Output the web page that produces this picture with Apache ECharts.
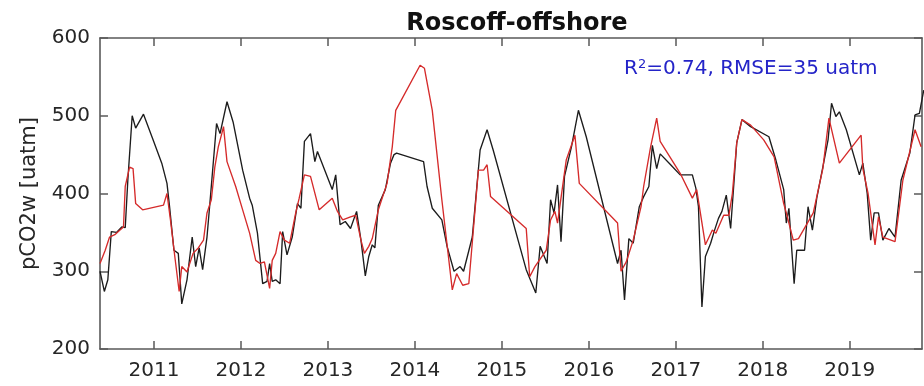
<!DOCTYPE html>
<html>
<head>
<meta charset="utf-8">
<script src="https://cdn.jsdelivr.net/npm/echarts@6/dist/echarts.min.js"></script>
<style>
  html, body { margin: 0; padding: 0; background: #fff; }
  #chart { width: 924px; height: 386px; }
</style>
</head>
<body>
<div id="chart"></div>
<script>
// Observed pCO2w (decimal year, uatm)
const obsTime = [2010.38,2010.43,2010.47,2010.51,2010.57,2010.63,2010.67,2010.70,2010.75,2010.79,2010.88,2010.99,
  2011.09,2011.15,2011.18,2011.23,2011.28,2011.32,2011.38,2011.44,2011.48,2011.52,2011.56,2011.61,2011.64,2011.72,2011.76,2011.84,2011.91,
  2012.02,2012.10,2012.13,2012.19,2012.25,2012.30,2012.33,2012.36,2012.40,2012.45,2012.48,2012.53,2012.59,2012.65,2012.69,2012.73,2012.80,2012.85,2012.88,
  2013.05,2013.09,2013.14,2013.20,2013.26,2013.33,2013.38,2013.43,2013.47,2013.51,2013.54,2013.58,2013.66,2013.72,2013.76,2013.79,
  2014.10,2014.14,2014.20,2014.31,2014.37,2014.45,2014.52,2014.56,2014.66,2014.75,2014.83,2014.90,
  2015.28,2015.39,2015.44,2015.52,2015.56,2015.60,2015.64,2015.68,2015.72,2015.80,2015.88,2015.97,
  2016.33,2016.37,2016.41,2016.46,2016.51,2016.58,2016.63,2016.69,2016.73,2016.78,2016.82,2016.94,
  2017.05,2017.19,2017.23,2017.26,2017.30,2017.34,2017.40,2017.44,2017.49,2017.53,2017.58,2017.63,2017.67,2017.70,2017.76,2017.86,
  2018.07,2018.15,2018.24,2018.27,2018.30,2018.36,2018.39,2018.48,2018.52,2018.57,2018.62,2018.69,2018.75,2018.79,2018.84,2018.88,2018.96,
  2019.11,2019.15,2019.20,2019.24,2019.28,2019.33,2019.38,2019.45,2019.52,2019.59,2019.69,2019.75,2019.80,2019.85];
const obsPco2 = [300,274,289,351,350,357,356,417,500,484,502,469,
  439,413,383,327,323,258,289,344,306,330,302,344,383,490,477,518,492,
  430,394,385,349,284,287,310,287,289,284,351,321,344,387,381,467,477,441,454,
  405,424,360,364,355,377,340,294,319,334,330,385,405,439,450,452,
  441,409,381,366,332,300,306,300,344,456,482,456,
  302,272,332,310,392,375,411,338,422,460,507,473,
  310,327,263,342,336,383,396,409,462,432,451,437,
  424,424,407,383,254,319,336,351,368,377,398,355,417,465,495,486,
  473,443,405,362,381,284,327,327,383,353,394,434,469,516,499,505,482,
  424,439,400,340,375,375,340,355,344,417,452,501,503,533];

// Modelled pCO2w (decimal year, uatm)
const modelTime = [2010.38,2010.44,2010.49,2010.55,2010.61,2010.65,2010.67,2010.72,2010.76,2010.79,2010.87,
  2011.11,2011.15,2011.19,2011.24,2011.29,2011.32,2011.38,2011.45,2011.51,2011.57,2011.61,2011.66,2011.70,2011.74,2011.78,2011.80,2011.84,2011.94,
  2012.02,2012.10,2012.17,2012.22,2012.27,2012.33,2012.36,2012.40,2012.45,2012.50,2012.56,2012.63,2012.67,2012.73,2012.80,2012.90,
  2013.05,2013.11,2013.17,2013.26,2013.32,2013.38,2013.42,2013.47,2013.51,2013.58,2013.68,2013.74,2013.78,
  2014.06,2014.11,2014.20,2014.31,2014.43,2014.48,2014.55,2014.62,2014.73,2014.79,2014.83,2014.87,
  2015.28,2015.32,2015.38,2015.51,2015.56,2015.61,2015.64,2015.74,2015.84,2015.89,
  2016.33,2016.37,2016.43,2016.51,2016.60,2016.63,2016.71,2016.78,2016.82,
  2017.05,2017.19,2017.24,2017.34,2017.42,2017.46,2017.55,2017.61,2017.65,2017.70,2017.76,2017.86,
  2018.01,2018.13,2018.24,2018.27,2018.35,2018.41,2018.58,2018.69,2018.76,2018.88,
  2019.13,2019.15,2019.21,2019.29,2019.33,2019.38,2019.52,2019.61,2019.75,2019.82];
const modelPco2 = [310,327,344,347,353,357,409,434,432,387,379,
  385,400,366,319,274,306,299,323,330,340,375,392,434,460,477,486,441,409,
  379,349,314,310,312,278,314,323,351,340,336,375,394,424,422,379,
  394,377,366,370,372,340,323,332,342,379,413,460,507,
  565,561,507,392,276,297,282,284,430,430,437,396,
  355,293,306,327,366,377,362,443,475,413,
  362,300,312,340,383,409,460,497,467,
  426,394,405,334,353,349,372,372,400,465,495,488,
  469,447,387,375,340,342,375,432,497,439,
  475,432,400,334,370,344,338,417,482,460];

// Axis ticks
const yearTicks = [2011,2012,2013,2014,2015,2016,2017,2018,2019];
const yTicks = [200,300,400,500,600];
const xRange = [2010.38, 2019.83];

const pairs = (xs, ys) => xs.map((x, i) => [x, ys[i]]);

const axisColor = '#5a5a5a';
const textColor = '#262626';
const font = 'DejaVu Sans';

const chart = echarts.init(document.getElementById('chart'), null, { renderer: 'canvas' });

const xBase = {
  type: 'value',
  min: xRange[0],
  max: xRange[1],
  splitLine: { show: false },
  axisLine: { show: true, onZero: false, lineStyle: { color: axisColor, width: 1.6 } },
  axisTick: { show: true, inside: true, length: 8, customValues: yearTicks, lineStyle: { color: axisColor, width: 1.5 } }
};
const yBase = {
  type: 'value',
  min: yTicks[0],
  max: yTicks[yTicks.length - 1],
  interval: 100,
  splitLine: { show: false },
  axisLine: { show: true, onZero: false, lineStyle: { color: axisColor, width: 1.6 } },
  axisTick: { show: true, inside: true, length: 8, lineStyle: { color: axisColor, width: 1.5 } }
};

chart.setOption({
  animation: false,
  backgroundColor: '#fff',
  title: {
    text: 'Roscoff-offshore',
    left: 512,
    textAlign: 'center',
    top: 7,
    textStyle: { fontFamily: font, fontWeight: 'bold', fontSize: 24, color: '#111' }
  },
  grid: { left: 100, right: 2, top: 38, bottom: 37, containLabel: false },
  xAxis: [
    Object.assign({}, xBase, {
      position: 'bottom',
      axisLabel: {
        show: true, customValues: yearTicks, margin: 12,
        fontFamily: font, fontSize: 20, color: textColor,
        formatter: v => String(Math.round(v))
      }
    }),
    Object.assign({}, xBase, { position: 'top', axisLabel: { show: false } })
  ],
  yAxis: [
    Object.assign({}, yBase, {
      position: 'left',
      name: 'pCO2w [uatm]',
      nameLocation: 'middle',
      nameGap: 60,
      nameTextStyle: { fontFamily: font, fontSize: 21, color: textColor },
      axisLabel: { show: true, margin: 10, fontFamily: font, fontSize: 20, color: textColor }
    }),
    Object.assign({}, yBase, { position: 'right', axisLabel: { show: false } })
  ],
  graphic: [{
    type: 'text',
    left: 624,
    top: 58,
    style: {
      text: 'R{sup|2}=0.74, RMSE=35 uatm',
      fontFamily: font,
      fontSize: 20,
      fill: '#2424c8',
      rich: {
        sup: { fontSize: 13, fill: '#2424c8', fontFamily: font, verticalAlign: 'top', padding: [0, 0, 9, 0] }
      }
    }
  }],
  series: [
    {
      name: 'observed',
      type: 'line',
      data: pairs(obsTime, obsPco2),
      showSymbol: false,
      symbol: 'none',
      clip: true,
      lineStyle: { color: '#1c1c1c', width: 1.35 }
    },
    {
      name: 'model',
      type: 'line',
      data: pairs(modelTime, modelPco2),
      showSymbol: false,
      symbol: 'none',
      clip: true,
      lineStyle: { color: '#d52b2b', width: 1.35 }
    }
  ]
});
</script>
</body>
</html>
